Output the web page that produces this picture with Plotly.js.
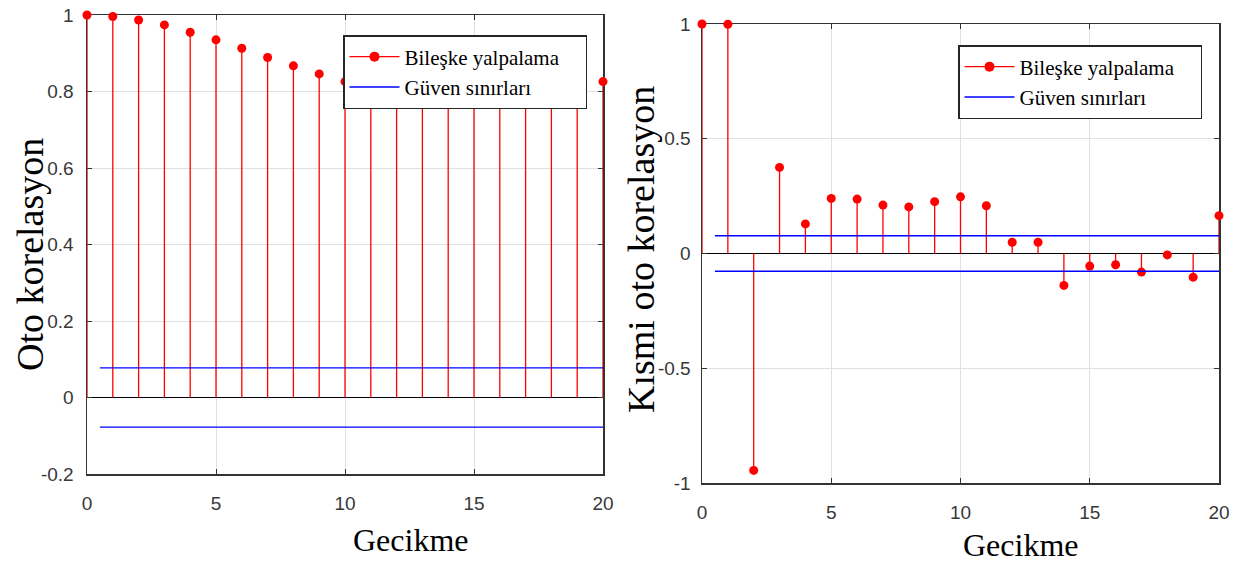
<!DOCTYPE html>
<html>
<head>
<meta charset="utf-8">
<script src="https://cdn.plot.ly/plotly-3.0.1.min.js"></script>
<style>
  html, body { margin: 0; padding: 0; background: #ffffff; }
  #chart { width: 1239px; height: 563px; }
</style>
</head>
<body>
<div id="chart"></div>
<script>
// ---- data ----
const lags = [0, 1, 2, 3, 4, 5, 6, 7, 8, 9, 10, 11, 12, 13, 14, 15, 16, 17, 18, 19, 20];
const acfValues = [1.000, 0.996, 0.987, 0.974, 0.955, 0.935, 0.913, 0.889, 0.867, 0.846, 0.826,
                   0.812, 0.801, 0.792, 0.783, 0.783, 0.792, 0.799, 0.806, 0.814, 0.826];
const pacfValues = [1.000, 0.999, -0.945, 0.375, 0.129, 0.240, 0.237, 0.211, 0.203, 0.226, 0.247,
                    0.208, 0.049, 0.049, -0.139, -0.055, -0.049, -0.081, -0.006, -0.103, 0.165];
const confBound = 0.0775;
const confLagRange = [0.5, 20];
const seriesName = 'Bileşke yalpalama';
const confName = 'Güven sınırları';
const xTickVals = [0, 5, 10, 15, 20];
const xTickText = ['0', '5', '10', '15', '20'];
const acfTickVals = [-0.2, 0, 0.2, 0.4, 0.6, 0.8, 1];
const acfTickText = ['-0.2', '0', '0.2', '0.4', '0.6', '0.8', '1'];
const pacfTickVals = [-1, -0.5, 0, 0.5, 1];
const pacfTickText = ['-1', '-0.5', '0', '0.5', '1'];
const xTitle = 'Gecikme';
const acfTitle = 'Oto korelasyon';
const pacfTitle = 'Kısmi oto korelasyon';

// ---- helpers ----
const RED = '#ff0000';
const BLUE = '#0000ff';
const SERIF = '"Liberation Serif", "Times New Roman", serif';
const SANS = '"Liberation Sans", Arial, sans-serif';
const PAD = '\u00a0\u00a0\u00a0\u00a0';

function stems(xs, vs) {
  const x = [], y = [];
  for (let i = 0; i < xs.length; i++) { x.push(xs[i], xs[i], null); y.push(0, vs[i], null); }
  return { x, y };
}
function confLines(b, r) {
  return { x: [r[0], r[1], null, r[0], r[1]], y: [b, b, null, -b, -b] };
}
function panelTraces(vals, xa, ya, leg) {
  const s = stems(lags, vals);
  const c = confLines(confBound, confLagRange);
  return [
    { type: 'scatter', mode: 'lines', x: s.x, y: s.y, xaxis: xa, yaxis: ya,
      line: { color: RED, width: 1.3 }, showlegend: false, hoverinfo: 'skip', cliponaxis: false },
    { type: 'scatter', mode: 'markers', x: lags, y: vals, xaxis: xa, yaxis: ya,
      marker: { color: RED, size: 9 }, showlegend: false, cliponaxis: false },
    { type: 'scatter', mode: 'lines+markers', x: [null], y: [null], xaxis: xa, yaxis: ya,
      name: seriesName + PAD, line: { color: RED, width: 1.3 }, marker: { color: RED, size: 10 },
      showlegend: true, legend: leg },
    { type: 'scatter', mode: 'lines', x: c.x, y: c.y, xaxis: xa, yaxis: ya,
      name: confName, line: { color: BLUE, width: 1.4 }, showlegend: true, legend: leg }
  ];
}

const W = 1239, H = 563;
function px(x) { return x / W; }
function py(y) { return (H - y) / H; }

const baseAxis = {
  showline: true, mirror: 'ticks', linecolor: '#333333', linewidth: 1.5,
  ticks: 'inside', ticklen: 5, tickwidth: 1, tickcolor: '#333333',
  showgrid: true, gridcolor: '#e0e0e0', gridwidth: 1,
  tickfont: { family: SANS, size: 19, color: '#383838' },
  layer: 'below traces', fixedrange: true
};

const legendBase = {
  xanchor: 'left', yanchor: 'top',
  bgcolor: '#ffffff', bordercolor: '#262626', borderwidth: 1.5,
  itemwidth: 50, tracegroupgap: 0,
  font: { family: SERIF, size: 21, color: '#000000' }
};

const layout = {
  width: W, height: H,
  font: { family: SERIF, size: 21, color: '#000000' },
  margin: { l: 0, r: 0, t: 0, b: 0 },
  paper_bgcolor: '#ffffff', plot_bgcolor: '#ffffff',
  xaxis: Object.assign({}, baseAxis, { domain: [px(87), px(603)], range: [0, 20],
    tickmode: 'array', tickvals: xTickVals, ticktext: xTickText, zeroline: false,
    anchor: 'y', ticklabelstandoff: 12 }),
  yaxis: Object.assign({}, baseAxis, { domain: [py(474), py(15)], range: [-0.2, 1],
    tickmode: 'array', tickvals: acfTickVals, ticktext: acfTickText,
    zeroline: true, zerolinecolor: '#000000', zerolinewidth: 1.5, anchor: 'x', ticklabelstandoff: 8 }),
  xaxis2: Object.assign({}, baseAxis, { domain: [px(702), px(1219)], range: [0, 20],
    tickmode: 'array', tickvals: xTickVals, ticktext: xTickText, zeroline: false,
    anchor: 'y2', ticklabelstandoff: 12 }),
  yaxis2: Object.assign({}, baseAxis, { domain: [py(483), py(24)], range: [-1, 1],
    tickmode: 'array', tickvals: pacfTickVals, ticktext: pacfTickText,
    zeroline: true, zerolinecolor: '#000000', zerolinewidth: 1.5, anchor: 'x2', ticklabelstandoff: 6 }),
  legend: Object.assign({}, legendBase, { x: px(343), y: py(35) }),
  legend2: Object.assign({}, legendBase, { x: px(958), y: py(45) }),
  annotations: [
    { text: xTitle, xref: 'paper', yref: 'paper', x: px(411), y: py(540), xanchor: 'center', yanchor: 'middle',
      showarrow: false, font: { family: SERIF, size: 32, color: '#000000' } },
    { text: xTitle, xref: 'paper', yref: 'paper', x: px(1021), y: py(545), xanchor: 'center', yanchor: 'middle',
      showarrow: false, font: { family: SERIF, size: 32, color: '#000000' } },
    { text: acfTitle, xref: 'paper', yref: 'paper', x: px(30), y: py(255), xanchor: 'center', yanchor: 'middle',
      textangle: -90, showarrow: false, font: { family: SERIF, size: 38, color: '#000000' } },
    { text: pacfTitle, xref: 'paper', yref: 'paper', x: px(641), y: py(250), xanchor: 'center', yanchor: 'middle',
      textangle: -90, showarrow: false, font: { family: SERIF, size: 38, color: '#000000' } }
  ],
  showlegend: true
};

const data = panelTraces(acfValues, 'x', 'y', 'legend')
  .concat(panelTraces(pacfValues, 'x2', 'y2', 'legend2'));

Plotly.newPlot('chart', data, layout, { staticPlot: true, displayModeBar: false });
</script>
</body>
</html>
